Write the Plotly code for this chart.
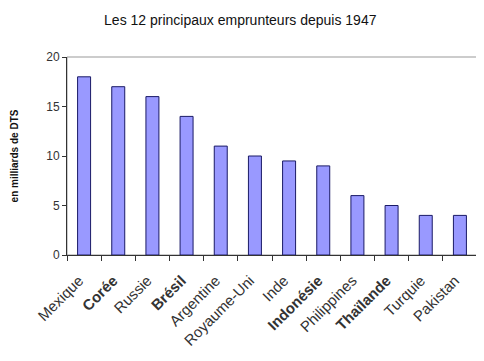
import plotly.graph_objects as go

categories = ["Mexique", "Corée", "Russie", "Brésil", "Argentine", "Royaume-Uni",
              "Inde", "Indonésie", "Philippines", "Thaïlande", "Turquie", "Pakistan"]
values = [18, 17, 16, 14, 11, 10, 9.5, 9, 6, 5, 4, 4]
bold_categories = ["Corée", "Brésil", "Indonésie", "Thaïlande"]
y_ticks = [0, 5, 10, 15, 20]

ticktext = [f"<b>{c}</b>" if c in bold_categories else c for c in categories]

fig = go.Figure(go.Bar(
    x=categories, y=values,
    marker=dict(color="#9999FF", line=dict(color="#1a1a66", width=1)),
))

fig.update_layout(
    width=476, height=353,
    margin=dict(l=59, r=7, t=49, b=106),
    paper_bgcolor="white", plot_bgcolor="white",
    bargap=0.62,
    showlegend=False,
    font=dict(family="Liberation Sans, Arial, sans-serif", color="#222"),
    title=dict(text="Les 12 principaux emprunteurs depuis 1947",
               x=0.488, xanchor="center", y=0.966, yanchor="middle",
               font=dict(size=14, color="#111")),
)
fig.update_xaxes(
    automargin=False,
    tickmode="array", tickvals=categories, ticktext=ticktext,
    tickangle=-45, tickfont=dict(size=15, color="#333"),
    ticklabelstandoff=10, ticklabelshift=-5,
    showline=True, linecolor="#333", linewidth=1,
    ticks="outside", tickson="boundaries", ticklen=5, tickcolor="#333",
    showgrid=False,
)
fig.update_yaxes(
    automargin=False,
    range=[0, 20], tickvals=y_ticks,
    tickfont=dict(size=12, color="#333"),
    showline=True, linecolor="#333", linewidth=1,
    ticks="outside", ticklen=4, tickcolor="#333",
    showgrid=False, zeroline=False,
    title=dict(text="<b>en milliards de DTS</b>", font=dict(size=10, color="#111"), standoff=25),
)
fig.add_shape(type="rect", xref="paper", yref="paper", x0=0, y0=0, x1=1, y1=1,
              line=dict(color="#999", width=1), layer="below")

fig.write_html("out.html")
